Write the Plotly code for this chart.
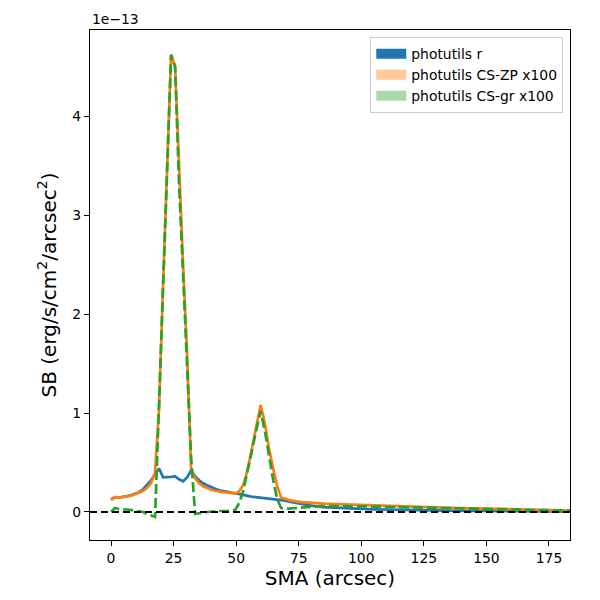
import plotly.graph_objects as go

# SMA in arcsec
sma = [0.0, 1.6, 3.2, 4.8, 6.4, 8.0, 9.6, 11.2, 12.8, 14.4, 16.0, 17.6, 19.2, 20.8, 22.4,
       24.0, 25.6, 27.2, 28.8, 30.4, 32.0, 33.6, 35.2, 36.8, 38.4, 40.0, 41.6, 43.2, 44.8,
       46.4, 48.0, 49.6, 51.2, 52.8, 54.4, 56.0, 57.8, 59.8, 61.6, 63.2, 64.8, 66.4, 68.0,
       69.6, 71.2, 76, 80, 85, 90, 95, 100, 105, 110, 115, 120, 125, 130, 140, 150, 160,
       170, 180, 186]

# surface brightness, units of 1e-13 erg/s/cm^2/arcsec^2
sb_r = [0.13, 0.15, 0.145, 0.15, 0.16, 0.17, 0.185, 0.20, 0.23, 0.27, 0.32, 0.38, 0.44, 0.35, 0.35,
        0.355, 0.36, 0.33, 0.31, 0.35, 0.42, 0.36, 0.32, 0.29, 0.27, 0.25, 0.235, 0.22, 0.21,
        0.20, 0.195, 0.19, 0.18, 0.17, 0.165, 0.155, 0.15, 0.145, 0.14, 0.135, 0.13, 0.13, 0.125,
        0.115, 0.105, 0.08, 0.065, 0.05, 0.042, 0.036, 0.031, 0.027, 0.024, 0.021, 0.019, 0.017,
        0.015, 0.012, 0.010, 0.008, 0.006, 0.004, 0.003]

sb_zp = [0.12, 0.15, 0.145, 0.15, 0.155, 0.165, 0.18, 0.195, 0.215, 0.245, 0.29, 0.40, 1.05, 2.3, 3.5,
         4.62, 4.5, 3.4, 2.5, 1.6, 0.44, 0.34, 0.29, 0.26, 0.24, 0.225, 0.215, 0.205, 0.20,
         0.195, 0.19, 0.185, 0.21, 0.27, 0.41, 0.60, 0.84, 1.08, 0.88, 0.63, 0.44, 0.26, 0.145,
         0.13, 0.12, 0.10, 0.09, 0.085, 0.08, 0.075, 0.072, 0.068, 0.064, 0.06, 0.055, 0.05,
         0.046, 0.039, 0.033, 0.028, 0.022, 0.016, 0.013]

sb_gr = [0.0, 0.04, 0.03, 0.03, 0.025, 0.02, 0.015, 0.01, 0.0, -0.02, -0.035, -0.05, 1.1, 2.35, 3.5,
         4.62, 4.5, 3.3, 2.4, 1.5, 0.55, -0.02, -0.01, -0.005, 0.0, 0.005, 0.008, 0.01, 0.01,
         0.01, 0.01, 0.02, 0.09, 0.21, 0.38, 0.58, 0.80, 1.02, 0.80, 0.55, 0.32, 0.13, 0.04,
         0.035, 0.035, 0.045, 0.055, 0.06, 0.06, 0.06, 0.058, 0.055, 0.052, 0.05, 0.047, 0.044,
         0.04, 0.035, 0.03, 0.025, 0.02, 0.015, 0.013]

names = ["photutils r", "photutils CS-ZP x100", "photutils CS-gr x100"]
line_colors = ["#1f77b4", "#ff7f0e", "#2ca02c"]
patch_colors = ["#1f77b4", "rgba(255,127,14,0.42)", "rgba(44,160,44,0.4)"]
dashes = ["solid", "solid", "10px,4px"]
series = [sb_r, sb_zp, sb_gr]

FONT = "DejaVu Sans"
fig = go.Figure()

for vals, col, dash in zip(series, line_colors, dashes):
    fig.add_trace(go.Scatter(x=sma, y=vals, mode="lines", showlegend=False,
                             line=dict(color=col, width=2.7, dash=dash)))

# legend-only patch entries
for name, pc in zip(names, patch_colors):
    fig.add_trace(go.Scatter(x=[None], y=[None], mode="lines",
                             line=dict(color=pc, width=12), name=name))

fig.add_hline(y=0, line=dict(color="black", width=2, dash="7px,4px"), layer="above")

axis_common = dict(showline=True, mirror=True, linecolor="black", linewidth=1.1,
                   ticks="outside", ticklen=5, tickwidth=1.1, tickcolor="black",
                   showgrid=False, zeroline=False, automargin=False,
                   tickfont=dict(family=FONT, size=13.9, color="black"))

fig.update_xaxes(range=[-8.4, 183.4], tickvals=[0, 25, 50, 75, 100, 125, 150, 175],
                 title=dict(text="SMA (arcsec)", font=dict(family=FONT, size=20, color="black"),
                            standoff=6),
                 **axis_common)
fig.update_yaxes(range=[-0.283, 4.87], tickvals=[0, 1, 2, 3, 4],
                 title=dict(text="SB (erg/s/cm<sup>2</sup>/arcsec<sup>2</sup>)",
                            font=dict(family=FONT, size=20, color="black"), standoff=10),
                 **axis_common)

fig.add_annotation(text="1e\u221213", xref="paper", yref="paper", x=0, y=1,
                   xanchor="left", yanchor="bottom", showarrow=False, yshift=1,
                   font=dict(family=FONT, size=13.9, color="black"))

fig.update_layout(
    width=600, height=600,
    margin=dict(l=90, r=30, t=30, b=60),
    paper_bgcolor="white", plot_bgcolor="white",
    font=dict(family=FONT, color="black"),
    legend=dict(x=0.986, y=0.986, xanchor="right", yanchor="top",
                bgcolor="rgba(255,255,255,0.8)", bordercolor="#cccccc", borderwidth=1,
                font=dict(family=FONT, size=13.9, color="black"), itemwidth=30,
                tracegroupgap=0),
)

fig.write_html("out.html", config={"displayModeBar": False},
               post_script="document.body.style.margin='0';")
